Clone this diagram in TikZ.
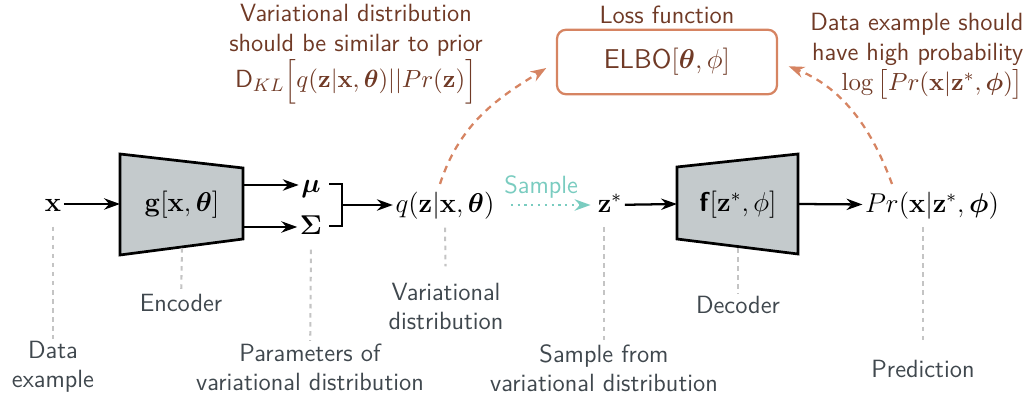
\documentclass[tikz,border=0pt]{standalone}
\usepackage{amsmath,bm}
\usetikzlibrary{arrows.meta,positioning}
\definecolor{notebrown}{RGB}{112,58,38}
\definecolor{lossorange}{RGB}{214,132,98}
\definecolor{sampleteal}{RGB}{122,204,192}
\definecolor{netgray}{RGB}{196,202,204}
\definecolor{labelgray}{RGB}{64,72,78}
\definecolor{guidegray}{RGB}{196,196,196}
\begin{document}
\begin{tikzpicture}[x=0.0155cm, y=-0.0155cm,
  math/.style={font=\large, inner sep=1pt, text height=10pt, text depth=3.5pt},
  net/.style={draw, fill=netgray, line width=1.2pt, line join=miter},
  lbl/.style={font=\sffamily\fontsize{11}{12.8}\selectfont, text=labelgray, align=center, inner sep=1pt},
  note/.style={font=\sffamily\fontsize{11}{13.4}\selectfont, text=notebrown, inner sep=1pt},
  lossbox/.style={draw=lossorange, line width=1pt, rounded corners=4pt, font=\sffamily\large, text=notebrown, minimum width=3.41cm, minimum height=1.0cm},
  arrow/.style={-{Stealth[length=7pt,width=5pt]}, line width=1pt},
  lossarrow/.style={-{Stealth[length=7pt,width=5pt]}, draw=lossorange, line width=1pt, dash pattern=on 3pt off 2.5pt},
  samplearrow/.style={-{Stealth[length=7pt,width=5pt]}, draw=sampleteal, line width=1pt, dotted},
  guide/.style={draw=guidegray, line width=0.9pt, dash pattern=on 2pt off 2pt}
]
\useasboundingbox (0,0) rectangle (1033,397);

% encoder
\node[math] (x) at (53,204) {$\mathbf{x}$};
\coordinate (encTL) at (120,154);
\coordinate (encTR) at (243,168);
\coordinate (encBR) at (243,239);
\coordinate (encBL) at (120,255);
\coordinate (encB) at (182,248);
\draw[net] (encTL) -- (encTR) -- (encBR) -- (encBL) -- cycle;
\node[math] (enc) at (182,204) {$\mathbf{g}[\mathbf{x},\boldsymbol{\theta}]$};
\draw[arrow] (x) -- (enc.west -| encTL);

\node[math] (mu) at (311,185) {$\boldsymbol{\mu}$};
\node[math] (sigma) at (311,227) {$\boldsymbol{\Sigma}$};
\draw[arrow] (mu.west -| encTR) -- (mu);
\draw[arrow] (sigma.west -| encTR) -- (sigma);

% bracket
\coordinate (brT) at (342,184);
\coordinate (brM) at (342,205);
\coordinate (brB) at (342,226);
\draw[line width=1pt] (brT) ++(-13,0) -- (brT) -- (brB) -- ++(-13,0);

\node[math] (q) at (445,205) {$q(\mathbf{z}|\mathbf{x},\boldsymbol{\theta})$};
\draw[arrow] (brM) -- (q);

% sampling
\node[math] (zs) at (610,205) {$\mathbf{z}^{*}$};
\draw[samplearrow, shorten <=6pt, shorten >=2pt] (q) -- node[above=-1pt, font=\sffamily\fontsize{11}{13}\selectfont, text=sampleteal, pos=0.45] {Sample} (zs);

% decoder
\coordinate (decTL) at (677,167);
\coordinate (decTR) at (798,154);
\coordinate (decBR) at (798,254);
\coordinate (decBL) at (677,239);
\coordinate (decB) at (738,248);
\draw[net] (decTL) -- (decTR) -- (decBR) -- (decBL) -- cycle;
\node[math] (dec) at (738,204) {$\textsf{\textbf{f}}[\mathbf{z}^{*},\phi]$};
\draw[arrow] (zs) -- (dec.west -| decTL);

\node[math] (pr) at (932,205) {$Pr(\mathbf{x}|\mathbf{z}^{*},\boldsymbol{\phi})$};
\draw[arrow] (dec.east -| decTR) -- (pr);

% loss
\node[lossbox] (loss) at (667,62) {ELBO$[\boldsymbol{\theta},\phi]$};
\node[note, above=1pt of loss] (losslbl) {Loss function};
\node[note, align=center] (klnote) at (356,54) {Variational distribution\\should be similar to prior\\
  $\mathsf{D}_{KL}\Big[q(\mathbf{z}|\mathbf{x},\boldsymbol{\theta})||Pr(\mathbf{z})\Big]$};
\node[note, align=right, anchor=north east] (llnote) at (1026,10) {Data example should\\have high probability\\
  $\log\big[Pr(\mathbf{x}|\mathbf{z}^{*},\boldsymbol{\phi})\big]$};
\coordinate (qT) at (440,184);
\coordinate (prT) at (892,184);
\draw[lossarrow, shorten >=5pt] (qT) to[out=72, in=212] (loss.west);
\draw[lossarrow, shorten >=5pt] (prT) to[out=110, in=-22] (loss.east);

% captions
\node[lbl] (xlbl) at (53,367) {Data\\example};
\node[lbl] (enclbl) at (181,303) {Encoder};
\node[lbl] (parlbl) at (310,367) {Parameters of\\variational distribution};
\node[lbl] (qlbl) at (446,306) {Variational\\distribution};
\node[lbl] (zslbl) at (604,368) {Sample from\\variational distribution};
\node[lbl] (declbl) at (738,305) {Decoder};
\node[lbl] (prlbl) at (923,369) {Prediction};
\coordinate (zsB) at (604,227);
\coordinate (prB) at (923,227);
\draw[guide, shorten <=2pt] (x.south) -- (xlbl);
\draw[guide] (encB) -- (enclbl);
\draw[guide, shorten <=2pt] (sigma.south) -- (parlbl);
\draw[guide, shorten <=2pt, shorten >=6pt] (q.south) -- (qlbl);
\draw[guide] (zsB) -- (zslbl.north -| zsB);
\draw[guide, shorten >=7pt] (prB) -- (prlbl);
\draw[guide] (decB) -- (declbl);
\end{tikzpicture}
\end{document}
